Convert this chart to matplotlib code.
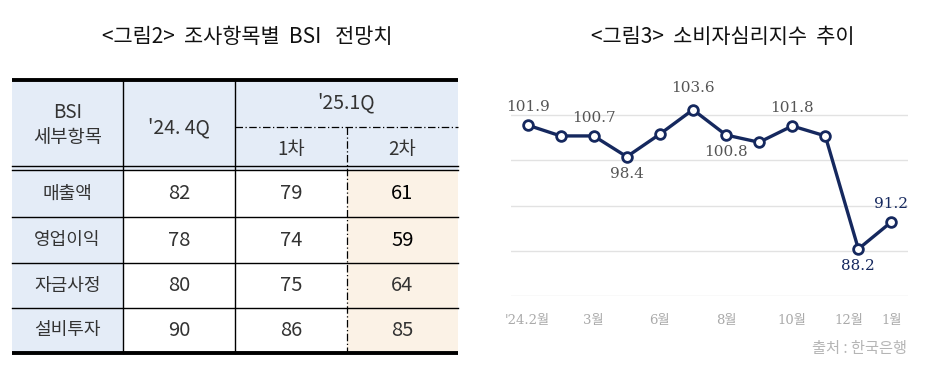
import numpy as np
import matplotlib.pyplot as plt

plt.rcParams['font.family'] = ['Noto Sans CJK KR', 'DejaVu Sans']

# table data (그림2)
bsi_items = ['매출액', '영업이익', '자금사정', '설비투자']
bsi_24q4 = [82, 78, 80, 90]
bsi_25q1_1st = [79, 74, 75, 86]
bsi_25q1_2nd = [61, 59, 64, 85]
bold_2nd = [True, True, False, False]

# line data (그림3)
csi_values = [101.9, 100.7, 100.7, 98.4, 100.9, 103.6, 100.8, 100.0, 101.8, 100.7, 88.2, 91.2]
label_idx = [0, 2, 3, 5, 6, 8, 10, 11]
label_up = [True, True, False, True, False, True, False, True]
tick_pos = [0, 2, 4, 6, 8, 9.7, 11]
tick_labels = ["'24.2월", "3월", "6월", "8월", "10월", "12월", "1월"]

fig = plt.figure(figsize=(9.27, 3.71), dpi=100)

# ---- table, drawn in pixel coords
tb = fig.add_axes([0, 0, 1, 1])
tb.set_xlim(0, 927)
tb.set_ylim(371, 0)
tb.axis('off')

blue = '#e4ecf7'
cream = '#fbf2e6'
txt = '#333333'
x0, c1, c2, c3, x1 = 12, 123, 235, 347, 458
htop, hmid, hbot = 80, 127, 170
row_edges = [170, 217, 263, 308, 353]

tb.add_patch(plt.Rectangle((x0, htop), x1 - x0, hbot - htop, color=blue, lw=0))
tb.add_patch(plt.Rectangle((x0, hbot), c1 - x0, row_edges[-1] - hbot, color=blue, lw=0))
tb.add_patch(plt.Rectangle((c3, hbot), x1 - c3, row_edges[-1] - hbot, color=cream, lw=0))

tb.plot([x0, x1], [htop, htop], color='k', lw=2.8, solid_capstyle='butt')
tb.plot([x0, x1], [row_edges[-1], row_edges[-1]], color='k', lw=2.8, solid_capstyle='butt')
tb.plot([x0, x1], [166, 166], color='k', lw=1)
tb.plot([x0, x1], [170, 170], color='k', lw=1)
for y in row_edges[1:-1]:
    tb.plot([x0, x1], [y, y], color='k', lw=1)
for x in (c1, c2):
    tb.plot([x, x], [htop, row_edges[-1]], color='k', lw=1)
tb.plot([c2, x1], [hmid, hmid], color='k', lw=0.9, ls=(0, (6, 2, 1, 2)))
tb.plot([c3, c3], [hmid, row_edges[-1]], color='k', lw=0.9, ls=(0, (6, 2, 1, 2)))

hfs = 13.5
tb.text((x0 + c1) / 2, 113, 'BSI', ha='center', va='center', fontsize=hfs, color=txt)
tb.text((x0 + c1) / 2, 138, '세부항목', ha='center', va='center', fontsize=hfs, color=txt)
tb.text((c1 + c2) / 2, 128, "'24. 4Q", ha='center', va='center', fontsize=hfs + 0.5, color=txt)
tb.text((c2 + x1) / 2, 103, "'25.1Q", ha='center', va='center', fontsize=hfs + 0.5, color=txt)
tb.text((c2 + c3) / 2, 149, '1차', ha='center', va='center', fontsize=hfs, color=txt)
tb.text((c3 + x1) / 2, 149, '2차', ha='center', va='center', fontsize=hfs, color=txt)

nfs = 14.5
for i, name in enumerate(bsi_items):
    yc = (row_edges[i] + row_edges[i + 1]) / 2
    tb.text((x0 + c1) / 2, yc, name, ha='center', va='center', fontsize=13, color=txt)
    tb.text((c1 + c2) / 2, yc, str(bsi_24q4[i]), ha='center', va='center', fontsize=nfs, color=txt)
    tb.text((c2 + c3) / 2, yc, str(bsi_25q1_1st[i]), ha='center', va='center', fontsize=nfs, color=txt)
    tb.text((c3 + x1) / 2, yc, str(bsi_25q1_2nd[i]), ha='center', va='center', fontsize=nfs,
            color='#000000' if bold_2nd[i] else txt,
            fontweight='medium' if bold_2nd[i] else 'normal')

tb.text(247, 37, '<그림2>  조사항목별  BSI   전망치', ha='center', va='center', fontsize=15, color='#111111')
tb.text(723, 37, '<그림3>  소비자심리지수  추이', ha='center', va='center', fontsize=15, color='#111111')
tb.text(907, 348, '출처 : 한국은행', ha='right', va='center', fontsize=11, color='#b5b5b5')

# ---- line chart
ax = fig.add_axes([511 / 927, (371 - 296) / 371, 397 / 927, 208 / 371])
ax.patch.set_alpha(0)
x = np.arange(len(csi_values))
navy = '#15285e'
ax.plot(x, csi_values, color=navy, lw=2.4, marker='o', ms=7, mfc='white', mec=navy, mew=2, zorder=3)
ax.set_xlim(-0.5, 11.5)
ax.set_ylim(83, 106)
ax.set_yticks([83, 88, 93, 98, 103])
ax.yaxis.grid(True, color='#e2e2e2', lw=1)
ax.set_axisbelow(True)
ax.tick_params(axis='y', left=False, labelleft=False)
ax.set_xticks(tick_pos)
ax.set_xticklabels(tick_labels, family=['DejaVu Serif', 'Noto Sans CJK KR'], fontsize=9.5, color='#aaaaaa')
ax.tick_params(axis='x', length=0, pad=13)
for s in ax.spines.values():
    s.set_visible(False)

for i, up in zip(label_idx, label_up):
    col = navy if i >= 10 else '#555555'
    off = 18 if up else -17
    if i == 5:
        off = 22
    ax.annotate(f'{csi_values[i]:.1f}', (x[i], csi_values[i]), xytext=(0, off * 0.72),
                textcoords='offset points', ha='center', va='center',
                family='DejaVu Serif', fontsize=11, color=col)

fig.savefig('out.png', dpi=100)
